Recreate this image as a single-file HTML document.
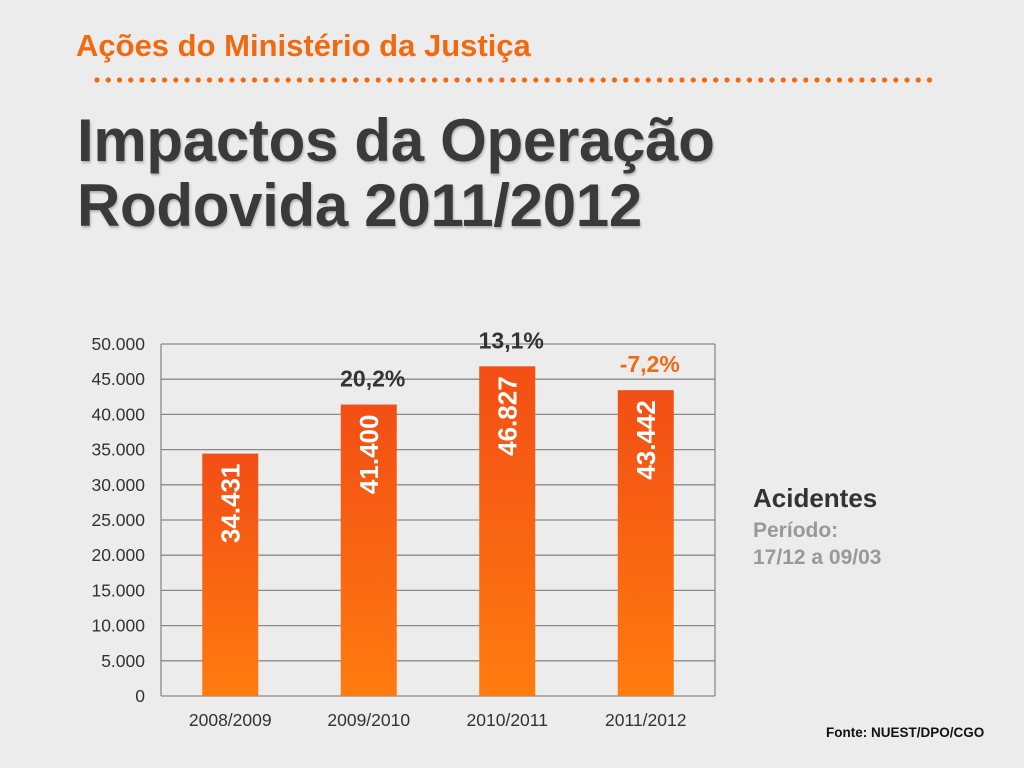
<!DOCTYPE html>
<html><head><meta charset="utf-8"><style>
body{margin:0;width:1024px;height:768px;background:#ececec;overflow:hidden;font-family:"Liberation Sans",sans-serif;position:relative}
.t{position:absolute;white-space:nowrap}
</style></head><body>
<div class="t" style="left:76px;top:28px;font-size:31px;font-weight:bold;color:#f26a10;">Ações do Ministério da Justiça</div>
<svg class="t" style="left:0;top:0" width="1024" height="100" id="dots"></svg>
<div class="t" style="left:77px;top:108px;font-size:60px;font-weight:bold;color:#3a3a3a;line-height:65px;letter-spacing:-0.3px;text-shadow:1px 2px 2px rgba(0,0,0,0.25)">Impactos da Operação<br>Rodovida 2011/2012</div>
<svg id="chart" class="t" style="left:0;top:0" width="1024" height="768"></svg>
<div class="t" style="left:753px;top:483px;font-size:26px;font-weight:bold;color:#333">Acidentes</div>
<div class="t" style="left:753px;top:517px;font-size:21px;font-weight:bold;color:#999;line-height:27px">Período:<br>17/12 a 09/03</div>
<div class="t" style="left:826px;top:725px;font-size:13.5px;font-weight:bold;color:#111">Fonte: NUEST/DPO/CGO</div>
<script>
const categories=["2008/2009","2009/2010","2010/2011","2011/2012"];
const values=[34431,41400,46827,43442];
const valueLabels=["34.431","41.400","46.827","43.442"];
const changeLabels=["","20,2%","13,1%","-7,2%"];
const yTicks=[0,5000,10000,15000,20000,25000,30000,35000,40000,45000,50000];
const yTickLabels=["0","5.000","10.000","15.000","20.000","25.000","30.000","35.000","40.000","45.000","50.000"];
const NS="http://www.w3.org/2000/svg";
const d=document.getElementById('dots');
for(let x=97;x<=932;x+=11.25){const c=document.createElementNS(NS,'circle');c.setAttribute('cx',x);c.setAttribute('cy',80);c.setAttribute('r',2.6);c.setAttribute('fill','#f26a10');


d.appendChild(c);}
const s=document.getElementById('chart');
const L=161,R=715,T=344,B=696,max=50000;
const y=v=>B-(v/max)*(B-T);
const bw=(R-L)/categories.length;
const xc=i=>L+bw*(i+0.5);
function el(t,a){const e=document.createElementNS(NS,t);for(const k in a)e.setAttribute(k,a[k]);s.appendChild(e);return e;}
s.innerHTML='<defs><linearGradient id="g" x1="0" y1="0" x2="0" y2="1"><stop offset="0" stop-color="#f24e15"/><stop offset="1" stop-color="#ff7b0f"/></linearGradient></defs>';
yTicks.forEach((v,i)=>{
 const l=el('line',{x1:L,x2:R,y1:y(v),y2:y(v),stroke:'#8a8a8a','stroke-width':1.3});
 
 
 const t=el('text',{x:L-16,y:y(v)+6,'text-anchor':'end','font-size':17.5,fill:'#333'});t.textContent=yTickLabels[i];
 
 
});
const ax=el('line',{x1:L,x2:L,y1:T,y2:B,stroke:'#8a8a8a','stroke-width':1.3});


const ax2=el('line',{x1:R,x2:R,y1:T,y2:B,stroke:'#8a8a8a','stroke-width':1.3});


values.forEach((v,i)=>{
 const r=el('rect',{x:xc(i)-28,y:y(v),width:56,height:B-y(v),fill:'url(#g)'});
 
 
 const t=el('text',{x:0,y:0,'text-anchor':'end','font-size':26,'font-weight':'bold',fill:'#fff',transform:`translate(${xc(i)+9},${y(v)+10}) rotate(-90)`});t.textContent=valueLabels[i];
 
 
 if(changeLabels[i]){const c=el('text',{x:xc(i)+4,y:y(v)-18,'text-anchor':'middle','font-size':23,'font-weight':'bold',fill:v<values[i-1]?'#f26a10':'#333'});c.textContent=changeLabels[i];
 
 }
 const xl=el('text',{x:xc(i),y:B+30,'text-anchor':'middle','font-size':17.5,fill:'#333'});xl.textContent=categories[i];
 
 
});
</script>
</body></html>
